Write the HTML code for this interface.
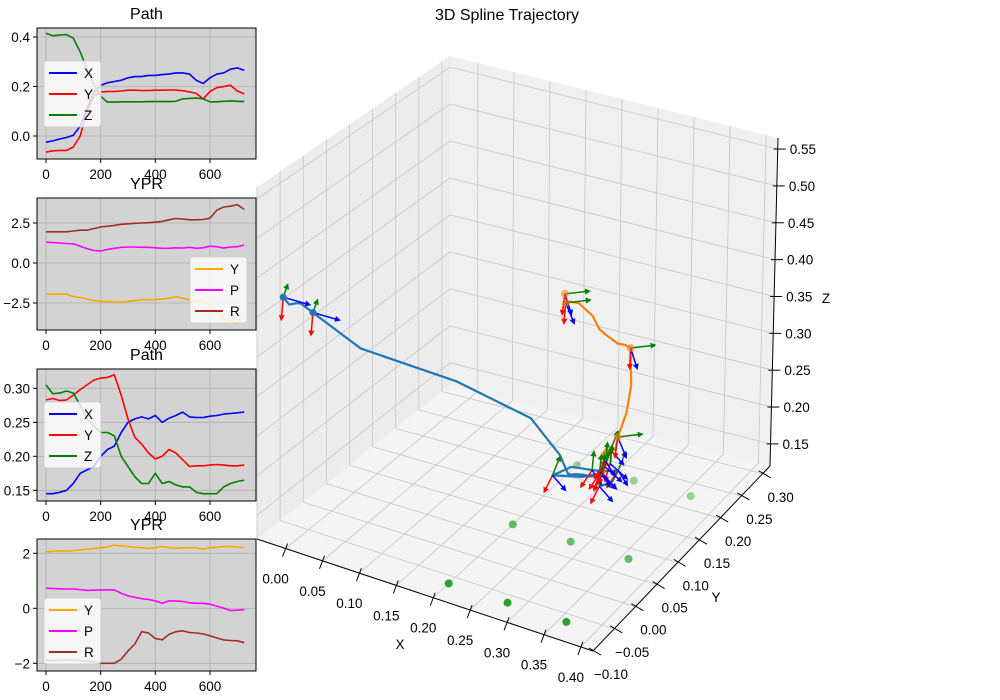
<!DOCTYPE html>
<html><head><meta charset="utf-8">
<style>
html,body{margin:0;padding:0;background:#fff;}
svg{display:block;font-family:"Liberation Sans","DejaVu Sans",sans-serif;}
</style></head>
<body>
<svg id="fig" width="1000" height="700" viewBox="0 0 1000 700" xmlns="http://www.w3.org/2000/svg">
<rect x="0" y="0" width="1000" height="700" fill="#fff"/>
<g id="g3d"></g>
<g id="g2d"></g>
</svg>
<script>
const T = [0,25,50,75,100,125,150,175,200,225,250,275,300,325,350,375,400,425,450,475,500,525,550,575,600,625,650,675,700,725];
const P1X = [-0.025,-0.02,-0.012,-0.006,0.003,0.04,0.11,0.175,0.205,0.215,0.22,0.225,0.235,0.24,0.24,0.245,0.245,0.248,0.25,0.255,0.255,0.25,0.225,0.212,0.235,0.25,0.255,0.27,0.275,0.265];
const P1Y = [-0.065,-0.06,-0.058,-0.058,-0.045,0.0,0.1,0.16,0.178,0.18,0.18,0.182,0.185,0.185,0.184,0.184,0.185,0.185,0.186,0.186,0.183,0.178,0.172,0.15,0.18,0.195,0.2,0.205,0.182,0.17];
const P1Z = [0.415,0.405,0.408,0.41,0.395,0.34,0.27,0.21,0.16,0.137,0.137,0.138,0.138,0.138,0.138,0.139,0.139,0.139,0.139,0.14,0.15,0.152,0.153,0.15,0.138,0.138,0.14,0.142,0.14,0.139];
const R1Y = [-1.95,-1.95,-1.93,-1.95,-2.1,-2.15,-2.25,-2.35,-2.4,-2.42,-2.43,-2.44,-2.4,-2.35,-2.3,-2.3,-2.28,-2.25,-2.2,-2.1,-2.2,-2.3,-2.35,-2.4,-2.6,-3.0,-3.5,-3.6,-3.75,-3.1];
const R1P = [1.3,1.28,1.25,1.22,1.2,1.05,0.9,0.78,0.75,0.85,0.92,0.98,1.0,1.0,0.98,0.98,0.95,0.92,0.92,0.95,0.93,0.98,0.92,0.95,1.05,1.02,0.93,1.0,1.02,1.12];
const R1R = [1.95,1.95,1.95,1.95,2.0,2.05,2.05,2.15,2.25,2.3,2.35,2.42,2.45,2.48,2.5,2.52,2.55,2.6,2.7,2.78,2.75,2.7,2.7,2.72,2.8,3.3,3.5,3.55,3.65,3.35];
const P2X = [0.145,0.145,0.147,0.15,0.16,0.175,0.18,0.185,0.2,0.21,0.215,0.235,0.25,0.255,0.258,0.255,0.26,0.25,0.256,0.26,0.265,0.258,0.257,0.257,0.259,0.26,0.262,0.263,0.264,0.265];
const P2Y = [0.283,0.285,0.282,0.283,0.29,0.298,0.305,0.312,0.315,0.316,0.32,0.29,0.255,0.228,0.218,0.205,0.196,0.2,0.21,0.205,0.195,0.185,0.186,0.186,0.187,0.188,0.187,0.186,0.186,0.187];
const P2Z = [0.305,0.292,0.293,0.296,0.293,0.275,0.255,0.245,0.235,0.235,0.23,0.2,0.185,0.17,0.16,0.16,0.175,0.16,0.163,0.158,0.155,0.155,0.147,0.145,0.145,0.145,0.155,0.16,0.163,0.165];
const R2Y = [2.05,2.07,2.08,2.08,2.1,2.12,2.15,2.17,2.2,2.23,2.3,2.27,2.25,2.22,2.2,2.18,2.2,2.25,2.2,2.18,2.2,2.2,2.2,2.15,2.2,2.22,2.25,2.25,2.23,2.2];
const R2P = [0.73,0.72,0.71,0.7,0.7,0.68,0.65,0.66,0.67,0.67,0.67,0.55,0.45,0.4,0.35,0.32,0.27,0.18,0.27,0.27,0.25,0.2,0.18,0.18,0.15,0.08,0.0,-0.08,-0.07,-0.05];
const R2R = [-1.9,-1.9,-1.89,-1.88,-1.88,-1.9,-1.92,-1.95,-2.0,-2.0,-2.0,-1.85,-1.55,-1.3,-0.85,-0.9,-1.1,-1.15,-0.95,-0.85,-0.82,-0.88,-0.9,-0.93,-1.0,-1.08,-1.15,-1.17,-1.18,-1.25];
const GX = [0.2,0.28,0.36,0.2,0.28,0.36,0.2,0.28,0.36];
const GY = [-0.065,-0.065,-0.065,0.08,0.08,0.08,0.225,0.225,0.225];
const GZ = [0.12,0.12,0.12,0.12,0.12,0.12,0.12,0.12,0.12];
const XTICKS3 = [0,0.05,0.1,0.15,0.2,0.25,0.3,0.35,0.4];
const YTICKS3 = [-0.1,-0.05,0,0.05,0.1,0.15,0.2,0.25,0.3];
const ZTICKS3 = [0.15,0.2,0.25,0.3,0.35,0.4,0.45,0.5,0.55];

const NS = "http://www.w3.org/2000/svg";
function mk(tag, attrs, parent){ const e=document.createElementNS(NS,tag); for(const k in attrs) e.setAttribute(k,attrs[k]); parent.appendChild(e); return e; }

/* ---------- 3D ---------- */
const XMIN=-0.0387, XMAX=0.4164, YMIN=-0.1, YMAX=0.3175, ZMIN=0.120, ZMAX=0.565;
const F00=[257,539],F10=[593,651],F01=[450,385],F11=[770,466];
const T00=[257,187],T10=[590,291],T01=[450,56],T11=[778,138];
function bl(a,b,c,d,u,v){ // a=00 b=10 c=01 d=11
  const fx=[a[0]+(b[0]-a[0])*u, a[1]+(b[1]-a[1])*u];
  const bx=[c[0]+(d[0]-c[0])*u, c[1]+(d[1]-c[1])*u];
  return [fx[0]+(bx[0]-fx[0])*v, fx[1]+(bx[1]-fx[1])*v];
}
function proj(x,y,z){
  const u=(x-XMIN)/(XMAX-XMIN), v=(y-YMIN)/(YMAX-YMIN), w=(z-ZMIN)/(ZMAX-ZMIN);
  const f=bl(F00,F10,F01,F11,u,v), t=bl(T00,T10,T01,T11,u,v);
  return [f[0]+(t[0]-f[0])*w, f[1]+(t[1]-f[1])*w];
}
const g3=document.getElementById('g3d');
function poly(pts,fill,name){ const p=mk('polygon',{points:pts.map(q=>q.join(',')).join(' '),fill:fill,stroke:'none'},g3);

 }
poly([F00,F01,T01,T00],'#ececec','left-pane');
poly([F01,F11,T11,T01],'#f0f0f0','back-pane');
poly([F00,F10,F11,F01],'#f4f4f4','floor-pane');
function ln(a,b,col,w,name){ const l=mk('line',{x1:a[0],y1:a[1],x2:b[0],y2:b[1],stroke:col,'stroke-width':w},g3);

 return l; }
const GC='#c6c6c6';
XTICKS3.forEach(x=>{ ln(proj(x,YMIN,ZMIN),proj(x,YMAX,ZMIN),GC,0.8,'x-grid'); ln(proj(x,YMAX,ZMIN),proj(x,YMAX,ZMAX),GC,0.8,'x-grid'); });
YTICKS3.forEach(y=>{ ln(proj(XMIN,y,ZMIN),proj(XMAX,y,ZMIN),GC,0.8,'y-grid'); ln(proj(XMIN,y,ZMIN),proj(XMIN,y,ZMAX),GC,0.8,'y-grid'); });
ZTICKS3.forEach(z=>{ ln(proj(XMIN,YMIN,z),proj(XMIN,YMAX,z),GC,0.8,'z-grid'); ln(proj(XMIN,YMAX,z),proj(XMAX,YMAX,z),GC,0.8,'z-grid'); });
// axis lines
ln(proj(XMIN,YMIN,ZMIN),proj(XMAX,YMIN,ZMIN),'#000',1,'x-axis-line');
ln(proj(XMAX,YMIN,ZMIN),proj(XMAX,YMAX,ZMIN),'#000',1,'y-axis-line');
ln(proj(XMAX,YMAX,ZMIN),proj(XMAX,YMAX,ZMAX),'#000',1,'z-axis-line');
function txt(parent,x,y,s,size,anchor,name){ const t=mk('text',{x:x,y:y,'font-size':size,'text-anchor':anchor||'middle',fill:'#000'},parent); t.textContent=s;

 return t; }
function fmt2(v){ const s=Math.abs(v).toFixed(2); return (v<-1e-9?'\u2212':'')+s; }
XTICKS3.forEach(x=>{ const p=proj(x,YMIN,ZMIN); ln([p[0]+2,p[1]-5],[p[0]-3,p[1]+8],'#000',1,'x-tick'); txt(g3,p[0]-10,p[1]+35,fmt2(x),13.5,'middle','x-tick-label'); });
YTICKS3.forEach(y=>{ const p=proj(XMAX,y,ZMIN); ln([p[0]-4,p[1]-3],[p[0]+8,p[1]+4],'#000',1,'y-tick'); txt(g3,p[0]+18,p[1]+28,fmt2(y),13.5,'middle','y-tick-label'); });
ZTICKS3.forEach(z=>{ const p=proj(XMAX,YMAX,z); ln([p[0]-4,p[1]],[p[0]+8,p[1]],'#000',1,'z-tick'); txt(g3,p[0]+12,p[1]+5,fmt2(z),13.5,'start','z-tick-label'); });
txt(g3,400,649,'X',13.5,'middle','x-axis-title');
txt(g3,716,602,'Y',13.5,'middle','y-axis-title');
txt(g3,826,303,'Z',13.5,'middle','z-axis-title');
txt(g3,507,20,'3D Spline Trajectory',16,'middle','chart-title');

// green scatter
GX.forEach((x,i)=>{ const p=proj(x,GY[i],GZ[i]); const op=[1,1,1,0.7,0.7,0.7,0.45,0.45,0.45][i];
 const c=mk('circle',{cx:p[0],cy:p[1],r:4,fill:'#2ca02c','fill-opacity':op},g3);
 
  });

function path3(X,Y,Z,col,name){ const d=X.map((x,i)=>{const p=proj(x,Y[i],Z[i]);return (i?'L':'M')+p[0].toFixed(1)+','+p[1].toFixed(1);}).join('');
 const p=mk('path',{d:d,fill:'none',stroke:col,'stroke-width':2.2,'stroke-linejoin':'round'},g3);
 
  }
function arrow(p,dx,dy,col){
 const x2=p[0]+dx,y2=p[1]+dy; const L=Math.hypot(dx,dy), ux=dx/L, uy=dy/L;
 const a=mk('line',{x1:p[0],y1:p[1],x2:x2-ux*3,y2:y2-uy*3,stroke:col,'stroke-width':1.5},g3);
 
 
 const h=mk('polygon',{points:`${x2},${y2} ${x2-ux*6-uy*3},${y2-uy*6+ux*3} ${x2-ux*6+uy*3},${y2-uy*6-ux*3}`,fill:col},g3);
 
 
}
function frame(p,k,early){
 if(early){ arrow(p,-3+k%3,22,'#ff0000'); arrow(p,26,-3,'#008000'); arrow(p,7+k%2*2,22,'#0000ff'); }
 else { arrow(p,-12+(k%3)*3,18,'#ff0000'); arrow(p,2+(k%2)*6,-20,'#008000'); arrow(p,10+(k%3)*4,16,'#0000ff'); }
}
path3(P1X,P1Y,P1Z,'#1f77b4','blue-trajectory');
path3(P2X,P2Y,P2Z,'#ff7f0e','orange-trajectory');
[21,23,25,27,29].forEach((i,k)=>frame(proj(P1X[i],P1Y[i],P1Z[i]),k,false));
[18,20,22,24,26,28].forEach((i,k)=>frame(proj(P2X[i],P2Y[i],P2Z[i]),k+1,false));
[0,4].forEach((i,k)=>{ const p=proj(P1X[i],P1Y[i],P1Z[i]); arrow(p,-2,24,'#ff0000'); arrow(p,5,-14,'#008000'); arrow(p,28,8,'#0000ff');
 const c=mk('circle',{cx:p[0],cy:p[1],r:3.5,fill:'#1f77b4'},g3);
 
  });
[0,1,10,13].forEach((i,k)=>{ const p=proj(P2X[i],P2Y[i],P2Z[i]); frame(p,k,true);
 const c=mk('circle',{cx:p[0],cy:p[1],r:4,fill:'#ff7f0e','fill-opacity':0.6},g3);
 
  });

/* ---------- 2D subplots ---------- */
const g2=document.getElementById('g2d');
const L2=37,R2=256;
function xs(t){ return 46+t*164/600; }
function subplot(top,bottom,title,yfun,yticks,ylabels,series,colors,labels,leg,name){
 const g=mk('g',{},g2);
 
 
 const bg=mk('rect',{x:L2,y:top,width:R2-L2,height:bottom-top,fill:'#d3d3d3'},g);
 
 
 [0,200,400,600].forEach(t=>{ const l=mk('line',{x1:xs(t),y1:top,x2:xs(t),y2:bottom,stroke:'#b0b0b0','stroke-width':0.8},g);
  
  
  mk('line',{x1:xs(t),y1:bottom,x2:xs(t),y2:bottom+4,stroke:'#000'},g);
  txt(g,xs(t),bottom+20,String(t),13.5,'middle','x-tick-label'); });
 yticks.forEach((v,i)=>{ const y=yfun(v); const l=mk('line',{x1:L2,y1:y,x2:R2,y2:y,stroke:'#b0b0b0','stroke-width':0.8},g);
  
  
  mk('line',{x1:L2-4,y1:y,x2:L2,y2:y,stroke:'#000'},g);
  txt(g,L2-7,y+5,ylabels[i],13.5,'end','y-tick-label'); });
 series.forEach((s,k)=>{ const d=s.map((v,i)=>(i?'L':'M')+xs(T[i]).toFixed(1)+','+yfun(v).toFixed(1)).join('');
  const p=mk('path',{d:d,fill:'none',stroke:colors[k],'stroke-width':1.6,'stroke-linejoin':'round'},g);
  
   });
 const fr=mk('rect',{x:L2,y:top,width:R2-L2,height:bottom-top,fill:'none',stroke:'#000','stroke-width':1},g);
 
 
 const lg=mk('g',{},g);
 
 
 const lb=mk('rect',{x:leg[0],y:leg[1],width:57,height:66,rx:3,fill:'#fff','fill-opacity':0.8,stroke:'#ccc','stroke-opacity':0.8},lg);
 
 
 labels.forEach((lab,k)=>{ const y=leg[1]+12+k*21;
  const l=mk('line',{x1:leg[0]+5,y1:y,x2:leg[0]+33,y2:y,stroke:colors[k],'stroke-width':2},lg);
  
  
  txt(lg,leg[0]+40,y+5,lab,13.5,'start','legend-entry'); });
 txt(g,(L2+R2)/2,top-9,title,16,'middle','subplot-title');
}
subplot(28,159,'Path',v=>136-v*247.5,[0,0.2,0.4],['0.0','0.2','0.4'],[P1X,P1Y,P1Z],['#0000ff','#ff0000','#008000'],['X','Y','Z'],[44,61],'path-plot-1');
subplot(198,330,'YPR',v=>263-v*16,[-2.5,0,2.5],['\u22122.5','0.0','2.5'],[R1Y,R1P,R1R],['#ffa500','#ff00ff','#a52a2a'],['Y','P','R'],[190,257],'ypr-plot-1');
subplot(369,501,'Path',v=>490.3-(v-0.15)*680,[0.15,0.2,0.25,0.3],['0.15','0.20','0.25','0.30'],[P2X,P2Y,P2Z],['#0000ff','#ff0000','#008000'],['X','Y','Z'],[44,402],'path-plot-2');
subplot(539,671,'YPR',v=>608.3-v*27.5,[-2,0,2],['\u22122','0','2'],[R2Y,R2P,R2R],['#ffa500','#ff00ff','#a52a2a'],['Y','P','R'],[44,598],'ypr-plot-2');
</script>
</body></html>
